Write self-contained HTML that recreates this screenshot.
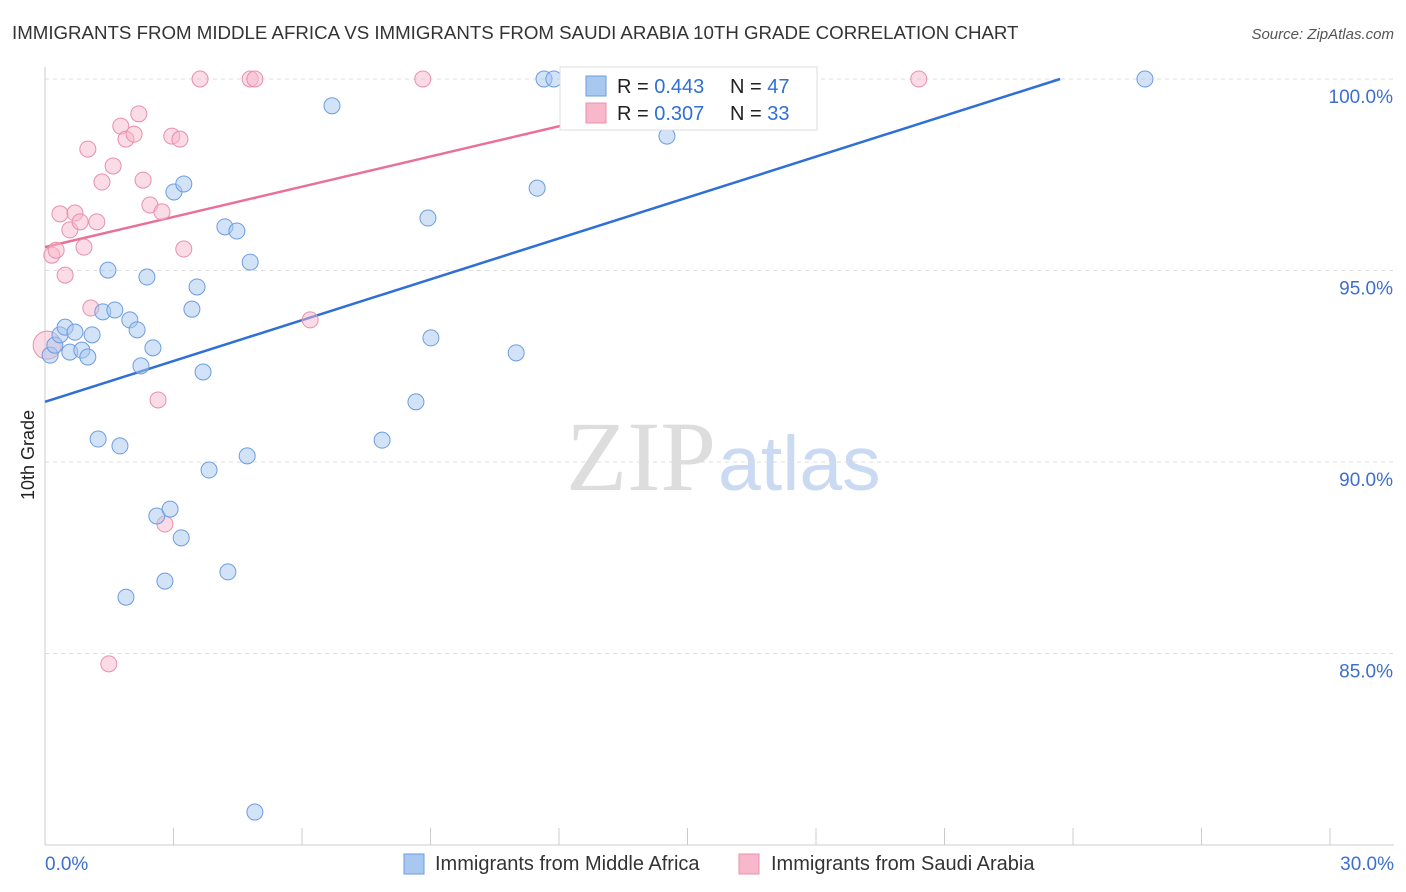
<!DOCTYPE html>
<html><head><meta charset="utf-8"><style>
body{margin:0;background:#fff;font-family:"Liberation Sans",sans-serif;}
svg{display:block}
</style></head><body>
<svg id="c" width="1406" height="892" xmlns="http://www.w3.org/2000/svg">
<text x="12" y="39" font-size="18.7" fill="#333">IMMIGRANTS FROM MIDDLE AFRICA VS IMMIGRANTS FROM SAUDI ARABIA 10TH GRADE CORRELATION CHART</text>
<text x="1394" y="39" font-size="15" fill="#555" font-style="italic" text-anchor="end">Source: ZipAtlas.com</text>
<text x="34" y="455" font-size="18" fill="#222" transform="rotate(-90 34 455)" text-anchor="middle">10th Grade</text>
<text x="716" y="490" font-size="100" fill="#ddd" text-anchor="end" font-family="Liberation Serif">ZIP</text>
<text x="718" y="490" font-size="77" fill="#c9daf2">atlas</text>
<g id="grid"></g><g id="lines"></g><g id="pts"></g>
<g>
<rect x="560" y="67" width="257" height="63" fill="#fff" stroke="#ddd"/>
<rect x="586" y="76" width="20" height="20" fill="#a8c8f0" stroke="#6c9de0"/>
<rect x="586" y="103" width="20" height="20" fill="#f7b8cb" stroke="#e890ab"/>
<text x="617" y="93" font-size="20" fill="#222">R = <tspan fill="#2f6fd6">0.443</tspan></text>
<text x="730" y="93" font-size="20" fill="#222">N = <tspan fill="#2f6fd6">47</tspan></text>
<text x="617" y="120" font-size="20" fill="#222">R = <tspan fill="#2f6fd6">0.307</tspan></text>
<text x="730" y="120" font-size="20" fill="#222">N = <tspan fill="#2f6fd6">33</tspan></text>
</g>
<g>
<rect x="404" y="854" width="20" height="20" fill="#a8c8f0" stroke="#6c9de0"/>
<text x="435" y="870" font-size="20" fill="#333">Immigrants from Middle Africa</text>
<rect x="739" y="854" width="20" height="20" fill="#f7b8cb" stroke="#e890ab"/>
<text x="771" y="870" font-size="20" fill="#333">Immigrants from Saudi Arabia</text>
</g>
</svg>
<script>
const blueX=[0.12,0.23,0.35,0.47,0.58,0.70,0.86,1.00,1.10,1.24,1.35,1.47,1.63,1.75,1.89,1.98,2.15,2.24,2.38,2.52,2.61,2.80,2.92,3.01,3.18,3.24,3.43,3.55,3.69,3.83,4.20,4.27,4.48,4.72,4.79,4.90,6.70,7.87,8.66,8.94,9.01,11.0,11.49,11.65,11.88,14.52,25.68];
const blueY=[92.79,93.05,93.32,93.52,92.87,93.39,92.92,92.74,93.32,90.60,93.92,95.01,93.97,90.42,86.47,93.71,93.45,92.51,94.83,92.98,88.59,86.89,88.77,97.05,88.02,97.26,93.99,94.57,92.35,89.79,96.14,87.13,96.03,90.16,95.22,80.86,99.30,90.57,91.57,96.37,93.24,92.85,97.15,100,100,98.51,100];
const pinkX=[0.05,0.16,0.26,0.35,0.47,0.58,0.70,0.82,0.91,1.00,1.07,1.21,1.33,1.49,1.59,1.77,1.89,2.08,2.19,2.29,2.45,2.64,2.73,2.80,2.96,3.15,3.24,3.62,4.79,4.90,6.19,8.82,20.40];
const pinkY=[93.05,95.40,95.53,96.48,94.88,96.06,96.50,96.27,95.61,98.17,94.02,96.27,97.31,84.73,97.73,98.77,98.43,98.56,99.09,97.36,96.71,91.62,96.53,88.38,98.51,98.43,95.56,100,100,100,93.71,100,100];
const blueLine=[[0,91.57],[23.70,100]];
const pinkLine=[[0,95.61],[16.69,100]];
const yTicks=[100,95,90,85];
const xTicks=[0,3,6,9,12,15,18,21,24,27,30];
const NS="http://www.w3.org/2000/svg";
const sx=v=>45+v/30*1285, sy=v=>79+(100-v)/5*191.5;
function mk(t,a,p){const e=document.createElementNS(NS,t);for(const k in a)e.setAttribute(k,a[k]);p.appendChild(e);return e;}
const g=document.getElementById('grid'),L=document.getElementById('lines'),P=document.getElementById('pts');
yTicks.forEach(v=>{const l=mk('line',{x1:45,x2:1394,y1:sy(v),y2:sy(v),stroke:'#ddd','stroke-dasharray':'4,4'},g);

const t=mk('text',{x:1393,y:sy(v)+24,'font-size':19,fill:'#3d6fcc','text-anchor':'end'},g);t.textContent=v.toFixed(1)+'%';
});
const ax=mk('line',{x1:45,x2:45,y1:67,y2:845,stroke:'#ccc'},g);
const bx=mk('line',{x1:45,x2:1394,y1:845,y2:845,stroke:'#ccc'},g);
xTicks.forEach(v=>{const l=mk('line',{x1:sx(v),x2:sx(v),y1:828,y2:845,stroke:'#ccc'},g);});
[[0,'0.0%','start',45],[30,'30.0%','end',1394]].forEach(d=>{const t=mk('text',{x:d[3],y:870,'font-size':19,fill:'#3d6fcc','text-anchor':d[2]},g);t.textContent=d[1];
});
pinkX.forEach((x,i)=>{const c=mk('circle',{cx:sx(x),cy:sy(pinkY[i]),r:i==0?14:8,fill:'rgba(247,184,203,0.5)',stroke:'#e890ab','stroke-width':1},P);
});
blueX.forEach((x,i)=>{const c=mk('circle',{cx:sx(x),cy:sy(blueY[i]),r:8,fill:'rgba(168,200,240,0.5)',stroke:'#6c9de0','stroke-width':1},P);
});
const bl=mk('line',{x1:sx(blueLine[0][0]),y1:sy(blueLine[0][1]),x2:sx(blueLine[1][0]),y2:sy(blueLine[1][1]),stroke:'#2f6fd6','stroke-width':2.5},L);

const pl=mk('line',{x1:sx(pinkLine[0][0]),y1:sy(pinkLine[0][1]),x2:sx(pinkLine[1][0]),y2:sy(pinkLine[1][1]),stroke:'#e8709a','stroke-width':2.5},L);

</script>
</body></html>
